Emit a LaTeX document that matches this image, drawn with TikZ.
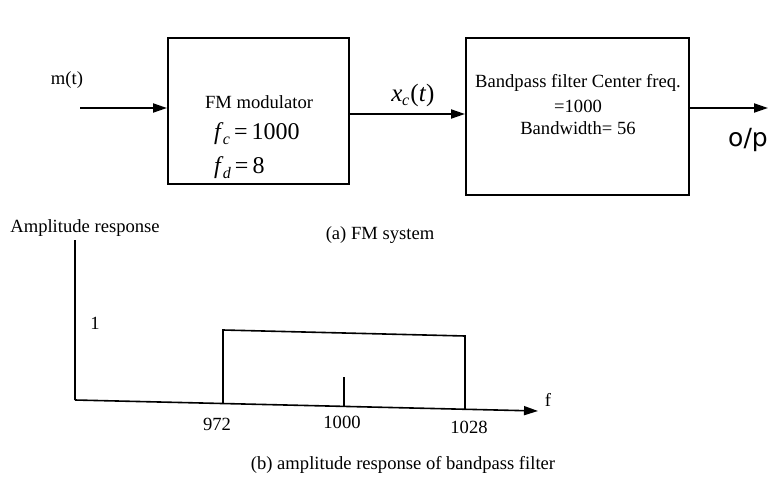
\documentclass[tikz,border=0pt]{standalone}
\usepackage{fontspec}
\setmainfont{Liberation Serif}
\newfontfamily\hand{DejaVu Sans}
\usetikzlibrary{arrows.meta}
\newcommand\fsym[1]{\textit{f}\kern-0.02em\raisebox{-0.4ex}{\fontsize{8}{9}\selectfont\textit{#1}}}
\begin{document}
\begin{tikzpicture}[x=0.5pt,y=-0.5pt,
  line width=1pt,
  blk/.style={draw,line width=1.1pt,anchor=north west,inner sep=0pt},
  lbl/.style={font=\fontsize{9.3}{11}\selectfont,inner sep=0pt},
  mlbl/.style={font=\fontsize{12}{14}\selectfont,inner sep=0pt},
  arr/.style={-{Triangle[length=7pt,width=4.5pt]},line width=1pt},
  thin/.style={line width=0.8pt}]
\useasboundingbox (0,0) rectangle (771,482);
% boxes
\node[blk,minimum width=90.5pt,minimum height=73pt] (b1) at (167,37) {};
\node[blk,minimum width=111.5pt,minimum height=78.5pt] (b2) at (465,37) {};
% box 1 text
\node[lbl] (t1) at (259,102) {FM modulator};
\node[mlbl,anchor=west] (t2) at (213,134) {\fsym{c}\,=\,1000};
\node[mlbl,anchor=west] (t3) at (213,168) {\fsym{d}\,=\,8};
% box 2 text
\node[lbl] (u1) at (578,83) {Bandpass filter Center freq.};
\node[lbl] (u2) at (578,106) {=1000};
\node[lbl] (u3) at (578,128) {Bandwidth= 56};
% input
\node[lbl] (m) at (67,80) {m(t)};
\coordinate (in) at (80,108);
\draw[arr] (in) -- (in -| b1.west);
% x_c
\coordinate (c1) at (348,114);
\draw[arr] (c1 -| b1.east) -- (c1 -| b2.west);
\node[mlbl,font=\fontsize{12.5}{14}\selectfont] (xc) at (413,95) {\textit{x}\kern-0.02em\raisebox{-0.4ex}{\fontsize{8}{9}\selectfont\textit{c}}\kern0.05em(\textit{t})};
% output
\coordinate (o1) at (688,108);
\coordinate (o2) at (768,108);
\draw[arr] (o1 -| b2.east) -- (o2);
\node[font=\hand\fontsize{12.5}{14}\selectfont,inner sep=0pt] (op) at (748,140) {o/p};
% captions
\node[lbl] (amp) at (85,228) {Amplitude response};
\node[lbl] (capa) at (380,235) {(a) FM system};
\node[lbl] (capb) at (403,465) {(b) amplitude response of bandpass filter};
% plot
\coordinate (ytop) at (75,240);
\coordinate (org) at (75,400);
\coordinate (tip) at (538,411);
\draw[thin] (ytop) -- (org);
\draw[arr,line width=0.8pt] (org) -- (tip);
\node[lbl] (f) at (548,400) {f};
\node[lbl] (one) at (95,323) {1};
\coordinate (r1) at (223,403.5);
\coordinate (r2) at (223,330);
\coordinate (r3) at (465,336);
\coordinate (r4) at (465,409.3);
\draw[thin] (r1) -- (r2) -- (r3) -- (r4);
\coordinate (k1) at (344,406.4);
\coordinate (k2) at (344,377);
\draw[thin] (k1) -- (k2);
\node[lbl] (l1) at (217,424) {972};
\node[lbl] (l2) at (342,422) {1000};
\node[lbl] (l3) at (469,427) {1028};
\end{tikzpicture}
\end{document}
